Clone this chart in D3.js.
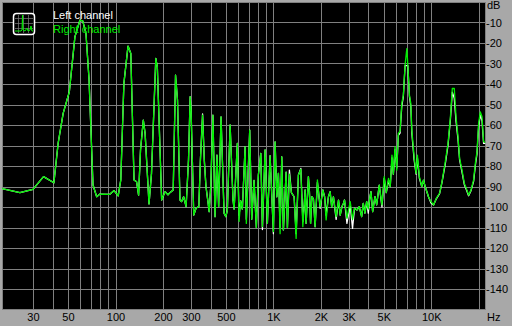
<!DOCTYPE html>
<html><head><meta charset="utf-8">
<script src="https://cdn.jsdelivr.net/npm/d3@7"></script>
<style>
body{margin:0;background:#a8a8a8;}
svg{display:block;}
text{font-family:Arial,"Liberation Sans",sans-serif;font-size:11px;}
</style></head><body>
<svg id="c" width="512" height="326"></svg>
<script>
// ---- data ----
const freqs = [19.1,24.8,30,35,40.7,43.3,46.6,51,55.3,59.5,62,65,68,72,76,79.6,92,98,104,108,113,120,125,131,136,140,144,150,154,163,169,180,184,196,206,215,221,232,240,247,256,262,270,280,290,297,301,313,324,337,345,356,365,374,383,392,401,414,427,439,450,466,487,500,511,532,555,564,591,606,621,636,662,674,708,729,754,780,803,832,852,886,916,953,1000,1025,1051,1076,1103,1130,1157,1204,1227,1263,1300,1353,1393,1440,1492,1536,1565,1588,1612,1666,1691,1720,1751,1793,1838,1900,1928,1977,2056,2110,2158,2231,2287,2340,2400,2497,2585,2650,2717,2781,2822,2922,3066,3171,3265,3382,3497,3622,3708,3801,3896,3990,4088,4149,4253,4398,4509,4683,4870,5036,5186,5363,5497,5636,5752,5896,6044,6187,6342,6502,6655,6823,7000,7103,7271,7421,7530,7788,8012,8166,8407,8707,8922,9146,9597,9956,10341,10757,11289,11691,12268,12760,13197,13588,13990,14342,14767,15115,15655,16188,16664,17234,17846,18538,19004,19480,19940,20442,20956,21452,22050];

const rightDb = [-91,-93,-91.4,-85.2,-88.2,-69,-54.3,-43.8,-17,-8.9,-9.2,-15.4,-38,-89.3,-95,-93.7,-93.8,-92,-94.6,-86.8,-39.7,-21.5,-25.1,-86.8,-87.7,-94.2,-72.2,-57.6,-64.1,-98.5,-83.6,-27.5,-31.6,-96.6,-92.5,-94,-93,-91.7,-35.7,-47.9,-96.6,-97.4,-95,-99.8,-77,-46.2,-52.7,-103.9,-100.5,-99.8,-77,-55.2,-77,-90,-96,-102.3,-90,-55.2,-104.7,-74.7,-99.8,-56,-103,-104.7,-101.5,-60,-96.6,-101,-69,-107,-97,-101,-70.6,-108,-62.5,-106,-87,-110,-84.4,-73.8,-109.6,-72.2,-108,-75,-112,-68.2,-95,-83.6,-113,-75.5,-111.2,-83,-110,-84,-93,-95,-115.3,-84.4,-81.6,-109.6,-100,-91.7,-108,-85.2,-92.5,-108,-95,-96,-109.6,-86.8,-92,-100,-91.7,-95,-106.3,-95,-92.5,-100,-95,-104.7,-96.6,-104,-99.8,-98.2,-96.6,-105.5,-97.4,-106,-100.6,-101.5,-99.8,-104.7,-98.2,-103,-97.4,-101,-95,-92.5,-102.3,-95,-99,-89.3,-99,-85.2,-93,-86,-90,-74.7,-84,-70.6,-82,-64.1,-63,-49.5,-45.4,-30.8,-22.7,-30.8,-45.4,-49.5,-62.5,-75.5,-83.6,-74.7,-85.2,-90,-86.8,-90,-95,-97.4,-99,-95.8,-93.3,-87.7,-77.9,-69,-56.8,-42.2,-42.2,-56,-65.7,-76.3,-82,-88.5,-90.9,-94.2,-91.7,-86.8,-78.7,-73,-59.2,-53.6,-56,-68.2,-68.5];

const leftDb = [-91,-93,-91.4,-85.2,-88.2,-69,-54.3,-43.8,-17,-8.9,-9.2,-15.4,-38,-89.3,-95,-93.7,-93.8,-92,-94.6,-86.8,-39.7,-21.5,-25.1,-86.8,-87.7,-94.2,-72.2,-57.6,-64.1,-98.5,-83.6,-27.5,-31.6,-96.6,-92.5,-94,-93,-91.7,-35.7,-47.9,-96.6,-97.4,-95,-99.8,-77,-46.2,-52.7,-103.9,-100.5,-99.8,-77,-54.6,-77,-90,-96,-102.3,-90,-55.2,-104.7,-74.7,-99.8,-56,-103,-104.7,-101.5,-60,-96.6,-101,-69,-104,-97,-101,-70.6,-106,-62.5,-106,-87,-110,-84.4,-73.8,-111,-72.2,-108,-75,-113,-68.2,-95,-83.6,-110,-75.5,-111.2,-83,-110,-82,-93,-95,-113,-84.4,-81.2,-107,-100,-91.7,-108,-85.2,-92.5,-108,-95,-96,-109.6,-88,-92,-100.6,-91.7,-95,-104,-95,-92.5,-100,-95,-106,-96.6,-104,-99.8,-98.2,-96.6,-108,-99,-110.4,-100.6,-101.5,-99.8,-104.7,-98.2,-103,-97.4,-103,-95,-92.5,-102.3,-95,-99,-89.3,-100,-86,-93,-87,-90,-76,-84,-72,-81,-65,-64,-51,-46,-31,-31,-31,-46,-51,-64,-77,-84,-76,-86,-90,-87,-90,-95,-98,-99,-96,-93.5,-88,-79,-70,-58,-44,-47,-58,-67,-77,-83,-89,-91.5,-94.5,-92,-87.5,-80,-74,-61,-55,-58,-69,-69];

const xTickValues = [30,50,100,200,300,500,1000,2000,3000,5000,10000];
const xTickText   = ["30","50","100","200","300","500","1K","2K","3K","5K","10K"];
const yTickValues = [-10,-20,-30,-40,-50,-60,-70,-80,-90,-100,-110,-120,-130,-140];
const seriesNames = ["Left channel","Right channel"];
const seriesColors = ["#ffffff","#00f000"];

// ---- layout ----
const L=2, R=485.5, T=2, B=309.5;
const svg = d3.select("#c");
const x = d3.scaleLog().domain([19.1,22050]).range([L,R]);
const y = d3.scaleLinear().domain([0,-150]).range([T,B]);

svg.append("rect").attr("width",512).attr("height",326).attr("fill","#a8a8a8");
svg.append("rect").attr("x",L).attr("y",T).attr("width",R-L).attr("height",B-T).attr("fill","#000");

svg.append("defs").append("clipPath").attr("id","clip")
  .append("rect").attr("x",L).attr("y",T).attr("width",R-L).attr("height",B-T);

// grid
const gGrid = svg.append("g").attr("stroke","#808080").attr("stroke-width",1).attr("shape-rendering","crispEdges");
const vTicks = x.ticks().filter(d=>d>20);
gGrid.selectAll("line.v").data(vTicks).join("line")
  .attr("x1",d=>Math.round(x(d))+0.5).attr("x2",d=>Math.round(x(d))+0.5)
  .attr("y1",T).attr("y2",B);
gGrid.selectAll("line.h").data(yTickValues).join("line")
  .attr("y1",d=>Math.round(y(d))+0.5).attr("y2",d=>Math.round(y(d))+0.5)
  .attr("x1",L).attr("x2",R);
// border
svg.append("rect").attr("x",L+0.5).attr("y",T+0.5).attr("width",R-L-1).attr("height",B-T-1)
  .attr("fill","none").attr("stroke","#808080").attr("shape-rendering","crispEdges");

// lines
const line = d3.line().x(d=>x(d[0])).y(d=>y(d[1]));
const gLines = svg.append("g").attr("clip-path","url(#clip)");
[leftDb,rightDb].forEach((vals,i)=>{
  gLines.append("path")
    .attr("d", line(freqs.map((f,k)=>[f,vals[k]])))
    .attr("fill","none").attr("stroke",seriesColors[i])
    .attr("stroke-width",1.3).attr("stroke-linejoin","round");
});

// axes
const xAxis = d3.axisBottom(x).tickValues(xTickValues).tickFormat((d,i)=>xTickText[i]).tickSize(0).tickPadding(0);
const gx = svg.append("g").attr("transform",`translate(0,${B})`).call(xAxis);
gx.select(".domain").remove();
gx.selectAll("text").attr("fill","#000").attr("dy",null).attr("y",11).style("font-size","11px").style("font-family","Arial,'Liberation Sans',sans-serif");
svg.append("text").attr("x",487).attr("y",321).attr("fill","#000").text("Hz");

const yAxis = d3.axisRight(y).tickValues(yTickValues).tickFormat(d=>String(d)).tickSize(0).tickPadding(0);
const gy = svg.append("g").attr("transform",`translate(486,0)`).call(yAxis);
gy.select(".domain").remove();
gy.selectAll("text").attr("fill","#000").attr("x",0).style("font-size","11px").style("font-family","Arial,'Liberation Sans',sans-serif");
svg.append("text").attr("x",487).attr("y",9).attr("fill","#000").text("dB");

// legend
const lg = svg.append("g");
lg.append("rect").attr("x",13.5).attr("y",13.5).attr("width",21).attr("height",21).attr("rx",3)
  .attr("fill","#000").attr("stroke","#fff").attr("stroke-width",1.5);
[18,23,28].forEach(v=>{
  lg.append("line").attr("x1",v+0.5).attr("x2",v+0.5).attr("y1",15).attr("y2",33).attr("stroke","#808080").attr("stroke-width",0.7);
  lg.append("line").attr("y1",v+0.5).attr("y2",v+0.5).attr("x1",15).attr("x2",33).attr("stroke","#808080").attr("stroke-width",0.7);
});
lg.append("path").attr("d","M15,31 L21,31 L22,30 L22.5,15 L23,30 L25,31 L27,28 L28,31 L30,30 L31,26 L32,31 L33,31")
  .attr("fill","none").attr("stroke","#00f000").attr("stroke-width",1);
seriesNames.forEach((n,i)=>{
  lg.append("text").attr("x",53).attr("y",19+i*14).attr("fill",seriesColors[i]).text(n);
});
</script>
</body></html>
